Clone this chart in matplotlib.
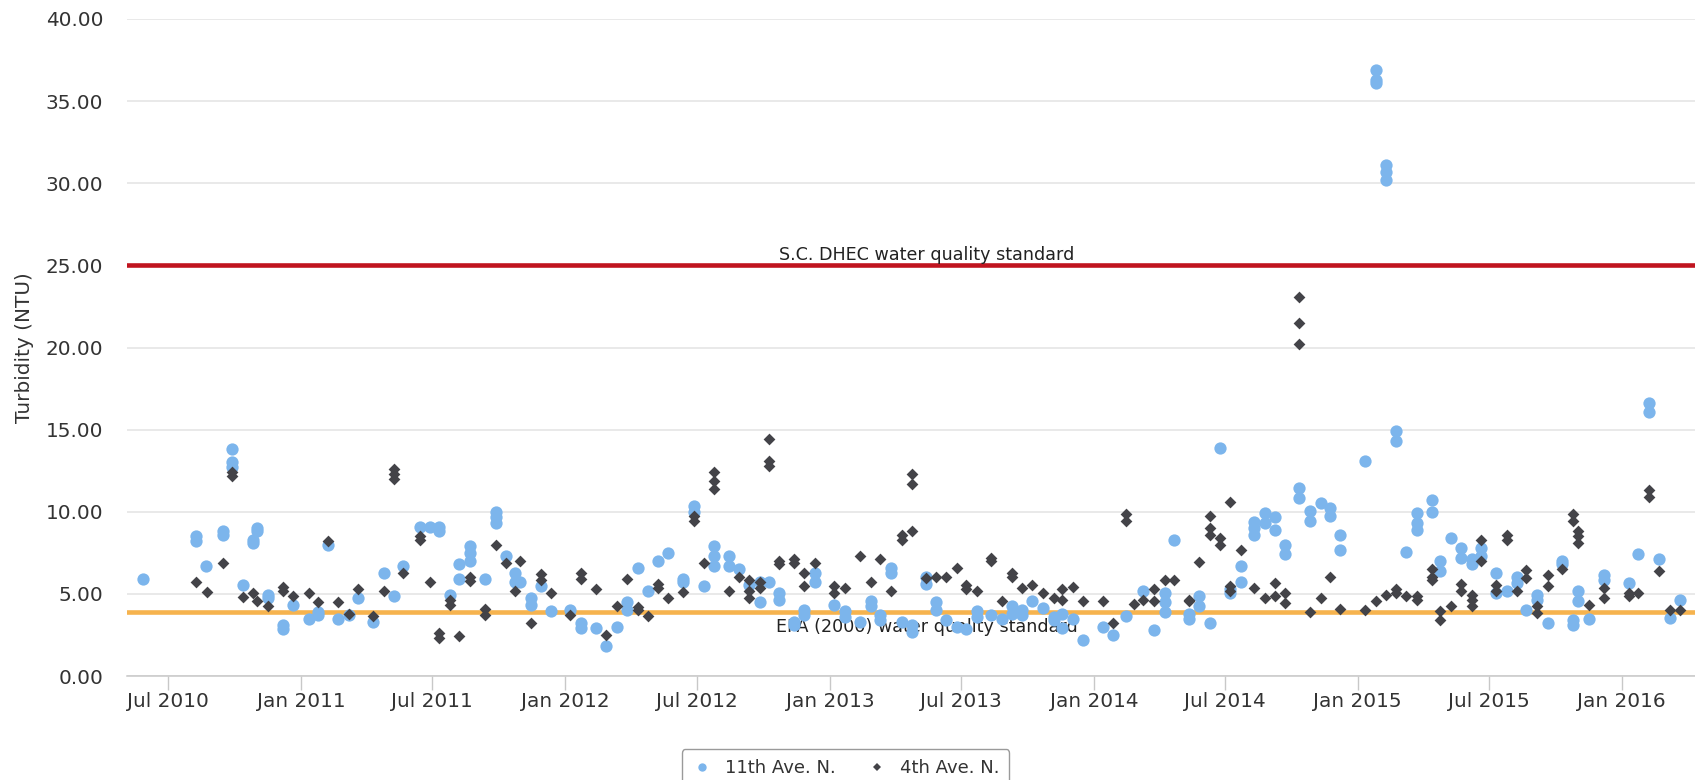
import matplotlib
matplotlib.use("Agg")
import matplotlib.pyplot as plt
import matplotlib.dates as mdates
from matplotlib.lines import Line2D
from matplotlib.ticker import FixedLocator, FormatStrFormatter
import pandas as pd

# ---------------- data ----------------
series_names = ["11th Ave. N.", "4th Ave. N."]

ave11_dates = [
    "2010-05-27", "2010-08-09", "2010-08-09", "2010-08-22", "2010-09-14", "2010-09-14",
    "2010-09-27", "2010-09-27", "2010-09-27", "2010-10-12", "2010-10-26", "2010-10-26",
    "2010-11-01", "2010-11-01", "2010-11-16", "2010-11-16", "2010-12-06", "2010-12-06",
    "2010-12-21", "2011-01-11", "2011-01-24", "2011-01-24", "2011-02-07", "2011-02-21",
    "2011-03-08", "2011-03-21", "2011-04-10", "2011-04-25", "2011-05-09", "2011-05-22",
    "2011-06-14", "2011-06-28", "2011-07-11", "2011-07-11", "2011-07-25", "2011-08-07",
    "2011-08-07", "2011-08-22", "2011-08-22", "2011-08-22", "2011-09-12", "2011-09-27",
    "2011-09-27", "2011-09-27", "2011-10-11", "2011-10-24", "2011-10-24", "2011-10-31",
    "2011-11-15", "2011-11-15", "2011-11-28", "2011-12-12", "2012-01-07", "2012-01-23",
    "2012-01-23", "2012-02-12", "2012-02-27", "2012-03-13", "2012-03-26", "2012-03-26",
    "2012-04-10", "2012-04-24", "2012-05-08", "2012-05-22", "2012-06-12", "2012-06-12",
    "2012-06-27", "2012-06-27", "2012-07-11", "2012-07-24", "2012-07-24", "2012-07-24",
    "2012-08-15", "2012-08-15", "2012-08-28", "2012-09-11", "2012-09-26", "2012-09-26",
    "2012-10-09", "2012-10-22", "2012-10-22", "2012-11-12", "2012-11-12", "2012-11-26",
    "2012-11-26", "2012-12-12", "2012-12-12", "2013-01-07", "2013-01-22", "2013-01-22",
    "2013-02-11", "2013-02-27", "2013-02-27", "2013-03-11", "2013-03-11", "2013-03-26",
    "2013-03-26", "2013-04-10", "2013-04-24", "2013-04-24", "2013-05-14", "2013-05-14",
    "2013-05-27", "2013-05-27", "2013-06-10", "2013-06-26", "2013-07-08", "2013-07-23",
    "2013-07-23", "2013-08-12", "2013-08-27", "2013-09-10", "2013-09-10", "2013-09-24",
    "2013-09-24", "2013-10-08", "2013-10-22", "2013-11-07", "2013-11-07", "2013-11-18",
    "2013-11-18", "2013-12-03", "2013-12-17", "2014-01-14", "2014-01-28", "2014-02-14",
    "2014-03-10", "2014-03-25", "2014-04-09", "2014-04-09", "2014-04-09", "2014-04-22",
    "2014-05-12", "2014-05-12", "2014-05-26", "2014-05-26", "2014-06-11", "2014-06-25",
    "2014-07-08", "2014-07-08", "2014-07-23", "2014-07-23", "2014-08-11", "2014-08-11",
    "2014-08-11", "2014-08-26", "2014-08-26", "2014-09-08", "2014-09-08", "2014-09-22",
    "2014-09-22", "2014-10-12", "2014-10-12", "2014-10-27", "2014-10-27", "2014-11-11",
    "2014-11-23", "2014-11-23", "2014-12-07", "2014-12-07", "2015-01-11", "2015-01-26",
    "2015-01-26", "2015-01-26", "2015-02-09", "2015-02-09", "2015-02-09", "2015-02-23",
    "2015-02-23", "2015-03-09", "2015-03-24", "2015-03-24", "2015-03-24", "2015-04-13",
    "2015-04-13", "2015-04-25", "2015-04-25", "2015-05-10", "2015-05-24", "2015-05-24",
    "2015-06-08", "2015-06-08", "2015-06-20", "2015-06-20", "2015-07-11", "2015-07-11",
    "2015-07-26", "2015-08-09", "2015-08-09", "2015-08-22", "2015-09-06", "2015-09-06",
    "2015-09-21", "2015-10-11", "2015-10-11", "2015-10-26", "2015-10-26", "2015-11-02",
    "2015-11-02", "2015-11-17", "2015-12-07", "2015-12-07", "2016-01-11", "2016-01-24",
    "2016-02-07", "2016-02-07", "2016-02-22", "2016-03-08", "2016-03-21",
]
ave11_values = [
    5.9, 8.5, 8.2, 6.7, 8.8, 8.6,
    13.85, 13.0, 12.7, 5.55, 8.3, 8.1,
    9.0, 8.8, 4.95, 4.75, 3.1, 2.85,
    4.35, 3.5, 3.7, 3.9, 8.0, 3.5,
    3.7, 4.75, 3.3, 6.3, 4.9, 6.7,
    9.05, 9.1, 9.1, 8.8, 4.95, 6.8,
    5.9, 7.9, 7.5, 7.0, 5.9, 10.0,
    9.7, 9.3, 7.3, 6.3, 5.7, 5.7,
    4.75, 4.35, 5.45, 3.93, 4.03, 3.2,
    2.9, 2.9, 1.8, 3.0, 4.5, 4.0,
    6.6, 5.15, 7.0, 7.5, 5.9, 5.7,
    10.35, 10.0, 5.5, 7.9, 7.3, 6.7,
    7.3, 6.7, 6.5, 5.55, 5.75, 4.5,
    5.75, 5.05, 4.65, 3.3, 3.1, 4.0,
    3.7, 6.3, 5.7, 4.3, 3.95, 3.6,
    3.3, 4.55, 4.25, 3.7, 3.4, 6.6,
    6.3, 3.3, 3.1, 2.7, 6.0, 5.6,
    4.5, 4.0, 3.4, 3.0, 2.85, 3.95,
    3.6, 3.7, 3.5, 4.25, 3.8, 4.0,
    3.7, 4.55, 4.15, 3.6, 3.4, 3.8,
    2.9, 3.45, 2.2, 3.0, 2.5, 3.65,
    5.15, 2.8, 5.05, 4.5, 3.9, 8.3,
    3.5, 3.8, 4.85, 4.25, 3.2, 13.9,
    5.3, 5.05, 6.7, 5.75, 9.4, 9.0,
    8.6, 9.95, 9.3, 9.7, 8.9, 8.0,
    7.4, 11.45, 10.85, 10.05, 9.45, 10.55,
    10.25, 9.75, 8.6, 7.7, 13.1, 36.9,
    36.3, 36.1, 31.1, 30.7, 30.2, 14.9,
    14.3, 7.55, 9.95, 9.3, 8.9, 10.7,
    10.0, 7.0, 6.4, 8.4, 7.8, 7.2,
    7.1, 6.8, 7.8, 7.3, 6.3, 5.05,
    5.2, 6.05, 5.65, 4.0, 4.95, 4.65,
    3.2, 7.0, 6.8, 3.4, 3.1, 5.15,
    4.55, 3.5, 6.15, 5.85, 5.65, 7.4,
    16.65, 16.05, 7.1, 3.55, 4.65,
]

ave4_dates = [
    "2010-08-09", "2010-08-23", "2010-09-14", "2010-09-27", "2010-09-27", "2010-10-12",
    "2010-10-26", "2010-11-01", "2010-11-16", "2010-12-06", "2010-12-06", "2010-12-21",
    "2011-01-11", "2011-01-24", "2011-02-07", "2011-02-21", "2011-03-08", "2011-03-21",
    "2011-04-10", "2011-04-25", "2011-05-09", "2011-05-09", "2011-05-09", "2011-05-22",
    "2011-06-14", "2011-06-14", "2011-06-28", "2011-07-11", "2011-07-11", "2011-07-25",
    "2011-07-25", "2011-08-07", "2011-08-22", "2011-08-22", "2011-09-12", "2011-09-12",
    "2011-09-27", "2011-10-11", "2011-10-24", "2011-10-31", "2011-11-15", "2011-11-28",
    "2011-11-28", "2011-12-12", "2012-01-07", "2012-01-23", "2012-01-23", "2012-02-12",
    "2012-02-27", "2012-03-13", "2012-03-26", "2012-04-10", "2012-04-10", "2012-04-24",
    "2012-05-08", "2012-05-08", "2012-05-22", "2012-06-12", "2012-06-27", "2012-06-27",
    "2012-07-11", "2012-07-24", "2012-07-24", "2012-07-24", "2012-08-15", "2012-08-28",
    "2012-09-11", "2012-09-11", "2012-09-11", "2012-09-26", "2012-09-26", "2012-10-09",
    "2012-10-09", "2012-10-09", "2012-10-22", "2012-10-22", "2012-11-12", "2012-11-12",
    "2012-11-26", "2012-11-26", "2012-12-12", "2013-01-07", "2013-01-07", "2013-01-22",
    "2013-02-11", "2013-02-27", "2013-03-11", "2013-03-26", "2013-04-10", "2013-04-10",
    "2013-04-24", "2013-04-24", "2013-04-24", "2013-05-14", "2013-05-27", "2013-06-10",
    "2013-06-26", "2013-07-08", "2013-07-08", "2013-07-23", "2013-08-12", "2013-08-12",
    "2013-08-27", "2013-09-10", "2013-09-10", "2013-09-24", "2013-10-08", "2013-10-22",
    "2013-11-07", "2013-11-18", "2013-11-18", "2013-12-03", "2013-12-17", "2014-01-14",
    "2014-01-28", "2014-02-14", "2014-02-14", "2014-02-25", "2014-03-10", "2014-03-25",
    "2014-03-25", "2014-04-09", "2014-04-22", "2014-05-12", "2014-05-12", "2014-05-26",
    "2014-06-11", "2014-06-11", "2014-06-11", "2014-06-25", "2014-06-25", "2014-07-08",
    "2014-07-08", "2014-07-08", "2014-07-23", "2014-08-11", "2014-08-26", "2014-09-08",
    "2014-09-08", "2014-09-22", "2014-09-22", "2014-10-12", "2014-10-12", "2014-10-12",
    "2014-10-27", "2014-11-11", "2014-11-23", "2014-12-07", "2015-01-11", "2015-01-26",
    "2015-02-09", "2015-02-23", "2015-02-23", "2015-03-09", "2015-03-24", "2015-03-24",
    "2015-04-13", "2015-04-13", "2015-04-13", "2015-04-25", "2015-04-25", "2015-05-10",
    "2015-05-24", "2015-05-24", "2015-06-08", "2015-06-08", "2015-06-08", "2015-06-20",
    "2015-06-20", "2015-07-11", "2015-07-11", "2015-07-26", "2015-07-26", "2015-08-09",
    "2015-08-22", "2015-08-22", "2015-09-06", "2015-09-06", "2015-09-21", "2015-09-21",
    "2015-10-11", "2015-10-26", "2015-10-26", "2015-11-02", "2015-11-02", "2015-11-02",
    "2015-11-17", "2015-12-07", "2015-12-07", "2016-01-11", "2016-01-11", "2016-01-24",
    "2016-02-07", "2016-02-07", "2016-02-22", "2016-03-08", "2016-03-21",
]
ave4_values = [
    5.7, 5.1, 6.9, 12.4, 12.2, 4.8,
    5.05, 4.55, 4.25, 5.4, 5.2, 4.9,
    5.05, 4.5, 8.2, 4.5, 3.8, 5.3,
    3.67, 5.15, 12.6, 12.3, 12.0, 6.3,
    8.5, 8.3, 5.7, 2.6, 2.3, 4.6,
    4.35, 2.45, 6.05, 5.8, 4.1, 3.7,
    8.0, 6.9, 5.2, 7.0, 3.2, 6.2,
    5.85, 5.05, 3.7, 6.3, 5.9, 5.3,
    2.5, 4.28, 5.9, 4.2, 4.0, 3.65,
    5.6, 5.35, 4.75, 5.1, 9.75, 9.45,
    6.85, 12.4, 11.9, 11.4, 5.15, 6.0,
    5.85, 5.15, 4.75, 5.75, 5.35, 14.45,
    13.1, 12.8, 7.0, 6.8, 7.1, 6.9,
    6.3, 5.45, 6.9, 5.45, 5.05, 5.35,
    7.3, 5.7, 7.1, 5.2, 8.6, 8.3,
    12.3, 11.7, 8.8, 5.95, 6.05, 6.05,
    6.6, 5.55, 5.3, 5.15, 7.2, 7.0,
    4.55, 6.3, 6.05, 5.35, 5.55, 5.05,
    4.75, 5.3, 4.6, 5.4, 4.55, 4.55,
    3.2, 9.85, 9.45, 4.4, 4.6, 5.3,
    4.55, 5.85, 5.85, 4.65, 4.55, 6.95,
    9.75, 9.0, 8.6, 8.4, 8.0, 10.6,
    5.45, 5.15, 7.7, 5.35, 4.75, 5.65,
    4.85, 5.05, 4.45, 23.1, 21.5, 20.2,
    3.9, 4.75, 6.05, 4.1, 4.0, 4.55,
    4.95, 5.3, 5.05, 4.85, 4.85, 4.65,
    6.5, 6.05, 5.85, 3.95, 3.4, 4.25,
    5.6, 5.15, 4.95, 4.6, 4.25, 8.3,
    7.0, 5.55, 5.15, 8.6, 8.3, 5.2,
    6.45, 5.95, 4.25, 3.85, 6.15, 5.45,
    6.5, 9.85, 9.45, 8.8, 8.5, 8.1,
    4.3, 5.35, 4.75, 5.05, 4.85, 5.05,
    11.3, 10.9, 6.4, 4.0, 4.0,
]

dhec_standard = 25.0
epa_standard = 3.88
dhec_label = "S.C. DHEC water quality standard"
epa_label = "EPA (2000) water quality standard"
y_ticks = [0, 5, 10, 15, 20, 25, 30, 35, 40]
y_title = "Turbidity (NTU)"

# ---------------- figure ----------------
plt.rcParams["font.family"] = ["DejaVu Sans"]
W, H = 1695, 780
fig = plt.figure(figsize=(W / 100, H / 100), dpi=100)
fig.patch.set_facecolor("white")
ax = fig.add_axes([127 / W, 1 - 676 / H, 1568 / W, 657 / H])

text_col = "#333333"
blue = "#7cb5ec"
dark = "#434348"

d11 = pd.to_datetime(ave11_dates)
d4 = pd.to_datetime(ave4_dates)

ax.scatter(d11, ave11_values, s=78, marker="o", color=blue, linewidths=0, zorder=4)
ax.scatter(d4, ave4_values, s=36, marker="D", color=dark, linewidths=0, zorder=5)

ax.axhline(dhec_standard, color="#c0141f", lw=3.3, zorder=2)
ax.axhline(epa_standard, color="#f6b34e", lw=3.3, zorder=2)

lbl_x = 0.510
ax.annotate(dhec_label, xy=(lbl_x, dhec_standard), xycoords=("axes fraction", "data"),
            xytext=(0, 4), textcoords="offset points", ha="center", va="baseline",
            fontsize=12.6, color="#222222", zorder=3)
ax.annotate(epa_label, xy=(lbl_x, epa_standard), xycoords=("axes fraction", "data"),
            xytext=(0, -14.2), textcoords="offset points", ha="center", va="baseline",
            fontsize=12.6, color="#222222", zorder=3)

# axes limits
ref = pd.Timestamp("2010-07-01")
ax.set_xlim(ref - pd.Timedelta(days=57.1), ref + pd.Timedelta(days=2111.3))
ax.set_ylim(0, 40)

# y axis
ax.yaxis.set_major_locator(FixedLocator(y_ticks))
ax.yaxis.set_major_formatter(FormatStrFormatter("%.2f"))
ax.tick_params(axis="y", length=0, pad=17, labelsize=14.4, labelcolor=text_col)
ax.grid(axis="y", color="#e3e3e3", lw=1.1, zorder=0)
ax.set_axisbelow(True)
ax.set_ylabel(y_title, fontsize=14.4, color=text_col)
ax.yaxis.set_label_coords((34 - 127) / 1568, 0.5)

# x axis
ax.xaxis.set_major_locator(mdates.MonthLocator(bymonth=[1, 7]))
ax.xaxis.set_major_formatter(mdates.DateFormatter("%b %Y"))
ax.tick_params(axis="x", length=10, width=1.0, color="#c8c8c8", pad=1.5,
               labelsize=14.4, labelcolor=text_col)

for side in ["left", "right", "top"]:
    ax.spines[side].set_visible(False)
ax.spines["bottom"].set_color("#c8c8c8")
ax.spines["bottom"].set_linewidth(1.1)

# legend
handles = [
    Line2D([], [], marker="o", ls="none", color=blue, markersize=6.0, markeredgewidth=0),
    Line2D([], [], marker="D", ls="none", color=dark, markersize=4.0, markeredgewidth=0),
]
leg = fig.legend(handles, series_names, loc="upper center",
                 bbox_to_anchor=(845.4 / W, 1 - 740 / H), ncol=2, fontsize=13,
                 frameon=True, fancybox=True, borderpad=0.55, handlelength=1.2,
                 handletextpad=0.65, columnspacing=1.7, labelcolor=text_col)
frame = leg.get_frame()
frame.set_edgecolor("#9a9a9a")
frame.set_linewidth(1.0)
frame.set_facecolor("white")
frame.set_alpha(1)

fig.savefig("out.png", dpi=100)
